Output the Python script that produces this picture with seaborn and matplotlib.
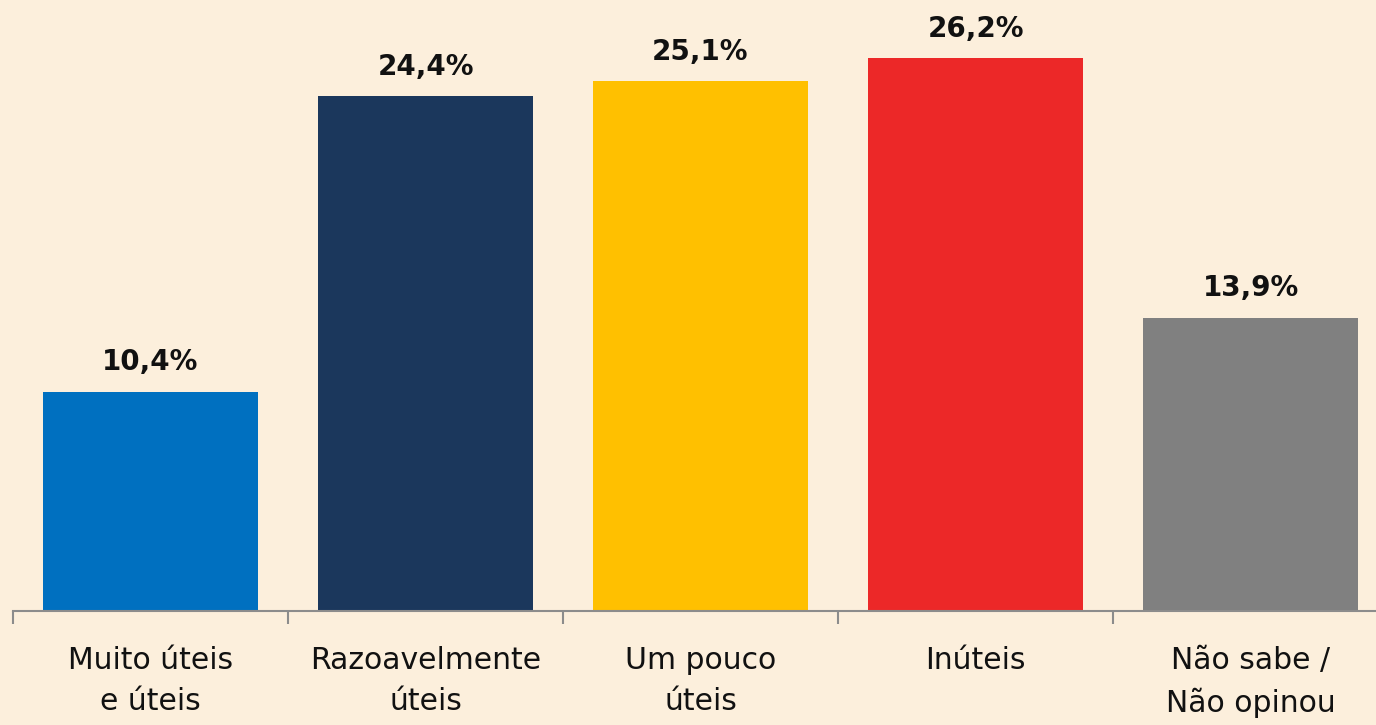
import numpy as np
import pandas as pd
import matplotlib.pyplot as plt
import seaborn as sns

categories = ["Muito úteis\ne úteis", "Razoavelmente\núteis", "Um pouco\núteis", "Inúteis", "Não sabe /\nNão opinou"]
values = [10.4, 24.4, 25.1, 26.2, 13.9]
value_labels = ["10,4%", "24,4%", "25,1%", "26,2%", "13,9%"]
bar_colors = ["#0070C0", "#1B375C", "#FFC000", "#EC2828", "#808080"]

bg = "#FCEFDC"
sns.set_style("white")
plt.rcParams["font.family"] = ["DejaVu Sans"]

df = pd.DataFrame({"cat": categories, "val": values})

fig = plt.figure(figsize=(13.76, 7.25), dpi=100, facecolor=bg)
# axes runs past the right edge, as in the reference
ax = fig.add_axes([13 / 1376, 114 / 725, 1375 / 1376, 611 / 725])
ax.set_facecolor(bg)

sns.barplot(data=df, x="cat", y="val", hue="cat", palette=bar_colors,
            width=0.78, legend=False, saturation=1, linewidth=0, ax=ax)

ax.set_xlim(-0.5, len(categories) - 0.5)
ax.set_ylim(0, 28.96)

for i, (v, lab) in enumerate(zip(values, value_labels)):
    ax.annotate(lab, (i, v), xytext=(0, 11), textcoords="offset points",
                ha="center", va="bottom", fontsize=20, fontweight="bold", color="#111111")

for s in ["top", "right", "left"]:
    ax.spines[s].set_visible(False)
ax.spines["bottom"].set_color("#8C8C8C")
ax.spines["bottom"].set_linewidth(1.5)

ax.set_yticks([])
ax.set_xlabel("")
ax.set_ylabel("")
ax.tick_params(axis="x", which="major", length=0, pad=25, labelsize=21.5, labelcolor="#111111")
ax.set_xticks(np.arange(-0.5, len(categories) + 0.5, 1), minor=True)
ax.tick_params(axis="x", which="minor", bottom=True, direction="out", length=9, width=1.5, color="#8C8C8C")
for t in ax.get_xticklabels():
    t.set_linespacing(1.55)

fig.savefig("out.png", dpi=100, facecolor=bg)
